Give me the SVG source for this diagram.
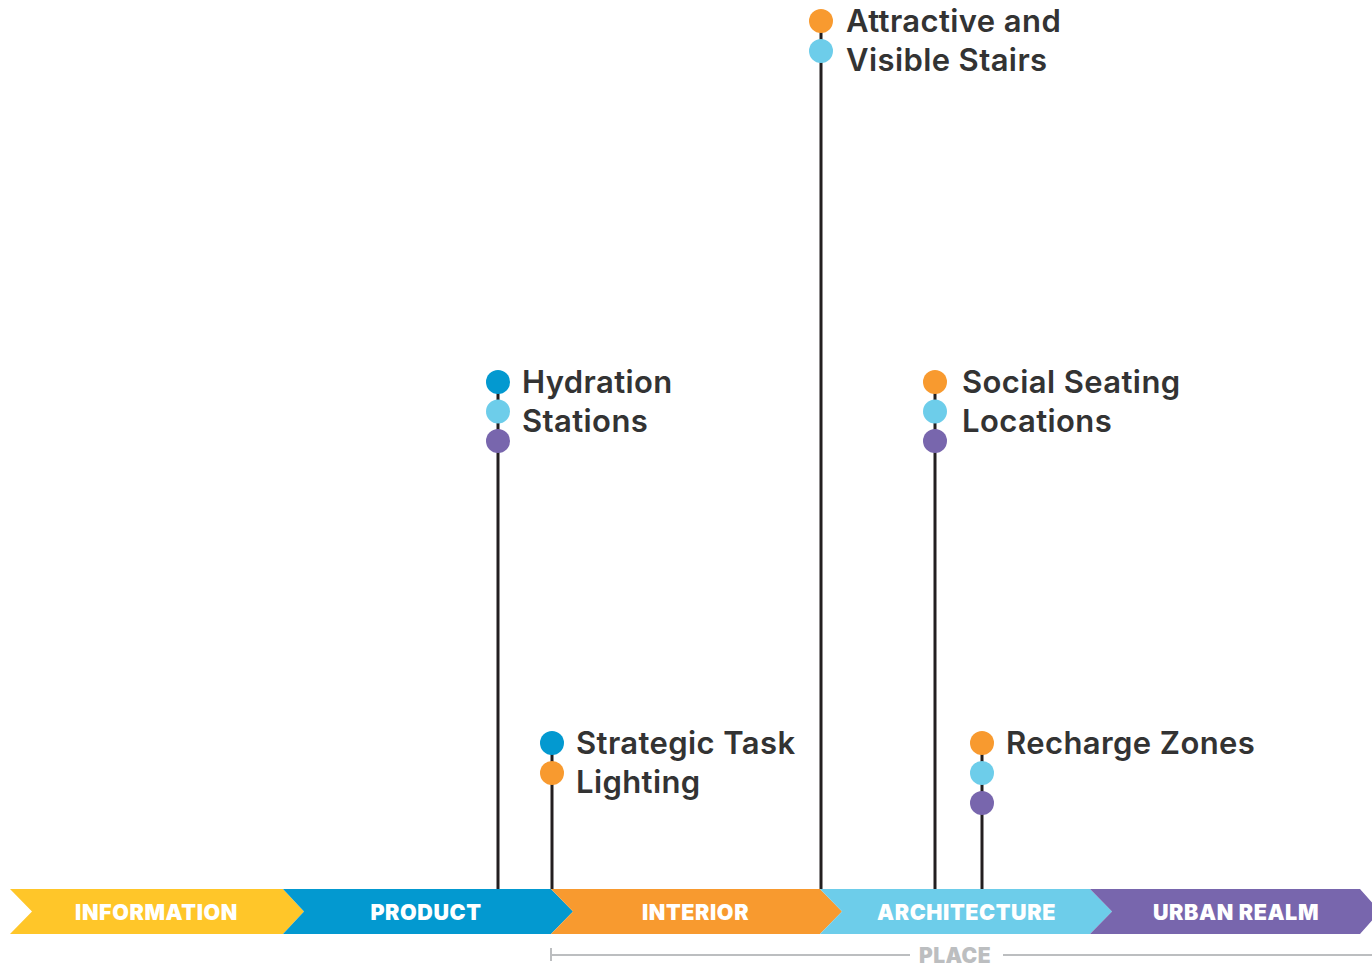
<svg xmlns="http://www.w3.org/2000/svg" width="1372" height="965" viewBox="0 0 1372 965">
<style>
.stem{stroke:#231f20;stroke-width:3;fill:none}
.lbl{font-family:Inter,"Liberation Sans",sans-serif;font-size:31px;font-weight:600;fill:#333333;letter-spacing:0.4px}
.band{font-family:Inter,"Liberation Sans",sans-serif;font-size:21.5px;font-weight:900;fill:#ffffff;text-anchor:middle;letter-spacing:0.6px}
.place{font-family:Inter,"Liberation Sans",sans-serif;font-size:21px;font-weight:900;fill:#bcbec0;text-anchor:middle;letter-spacing:0.4px}
.b{fill:#0399d0}.lb{fill:#6dcdea}.p{fill:#7866ad}.o{fill:#f89a2f}
</style>
<g id="band">
<polygon points="10,889 283,889 304,911.5 283,934 10,934 32,911.5" fill="#ffc629"/>
<polygon points="283,889 551,889 573,911.5 551,934 283,934 304,911.5" fill="#0399d0"/>
<polygon points="551,889 820,889 842,911.5 820,934 551,934 573,911.5" fill="#f89a2f"/>
<polygon points="820,889 1090,889 1112,911.5 1090,934 820,934 842,911.5" fill="#6dcdea"/>
<polygon points="1090,889 1360,889 1380,911.5 1360,934 1090,934 1112,911.5" fill="#7866ad"/>
<text class="band" x="156.5" y="919.5">INFORMATION</text>
<text class="band" x="426" y="919.5">PRODUCT</text>
<text class="band" x="695.5" y="919.5">INTERIOR</text>
<text class="band" x="966.5" y="919.5">ARCHITECTURE</text>
<text class="band" x="1236" y="919.5">URBAN REALM</text>
</g>
<g id="place">
<path d="M551,948 V961 M551,955 H910 M1003,955 H1372" stroke="#bcbec0" stroke-width="2" fill="none"/>
<text class="place" x="955" y="962.5">PLACE</text>
</g>
<g id="connectors">
<line class="stem" x1="498" y1="382" x2="498" y2="889"/>
<line class="stem" x1="552" y1="743" x2="552" y2="889"/>
<line class="stem" x1="821" y1="21" x2="821" y2="889"/>
<line class="stem" x1="935" y1="382" x2="935" y2="889"/>
<line class="stem" x1="982" y1="743" x2="982" y2="889"/>
</g>
<g id="hydration">
<circle class="b" cx="498" cy="382" r="12"/>
<circle class="lb" cx="498" cy="411.5" r="12"/>
<circle class="p" cx="498" cy="441" r="12"/>
<text class="lbl" x="522" y="393">Hydration</text>
<text class="lbl" x="522" y="432">Stations</text>
</g>
<g id="strategic">
<circle class="b" cx="552" cy="743" r="12"/>
<circle class="o" cx="552" cy="773" r="12"/>
<text class="lbl" x="576" y="754">Strategic Task</text>
<text class="lbl" x="576" y="793">Lighting</text>
</g>
<g id="attractive">
<circle class="o" cx="821" cy="21" r="12"/>
<circle class="lb" cx="821" cy="51" r="12"/>
<text class="lbl" x="846" y="32">Attractive and</text>
<text class="lbl" x="846" y="71">Visible Stairs</text>
</g>
<g id="social">
<circle class="o" cx="935" cy="382" r="12"/>
<circle class="lb" cx="935" cy="411.5" r="12"/>
<circle class="p" cx="935" cy="441" r="12"/>
<text class="lbl" x="962" y="393">Social Seating</text>
<text class="lbl" x="962" y="432">Locations</text>
</g>
<g id="recharge">
<circle class="o" cx="982" cy="743" r="12"/>
<circle class="lb" cx="982" cy="773" r="12"/>
<circle class="p" cx="982" cy="803" r="12"/>
<text class="lbl" x="1006" y="754">Recharge Zones</text>
</g>
</svg>
